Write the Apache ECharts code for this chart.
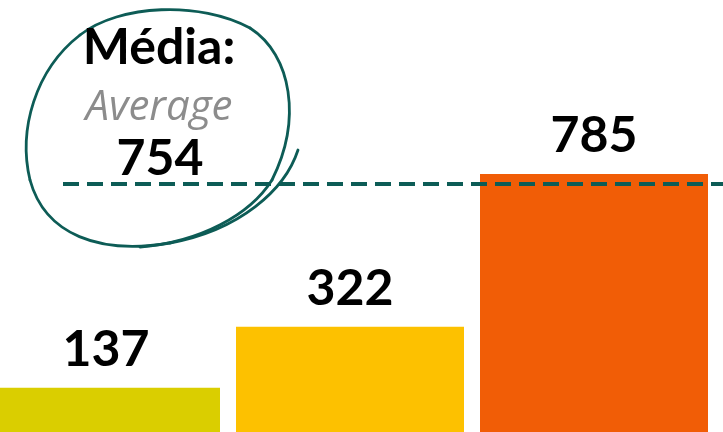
<!DOCTYPE html>
<html>
<head>
<meta charset="utf-8">
<script src="https://cdn.jsdelivr.net/npm/echarts@6/dist/echarts.min.js"></script>
<style>
  html, body { margin: 0; padding: 0; background: #ffffff; }
  #chart { width: 723px; height: 432px; }
</style>
</head>
<body>
<div id="chart"></div>
<script>
// Values per group
const categories = ['1', '2', '3'];
const values = [137, 322, 785];
const barColors = ['#DACE00', '#FDC100', '#F15D06'];

// Average reference line and its annotation
const average = 754;
const averageTitle = 'Média:';
const averageSubtitle = 'Average';

const lineColor = '#0D5C56';

// Hand-drawn loop around the annotation, as cubic segments [x1,y1,c1x,c1y,c2x,c2y,x2,y2]
const loopSegments = [
  [298, 150, 285, 190, 240, 230, 170, 243],
  [170, 243, 100, 255, 45, 235, 30, 180],
  [30, 180, 18, 130, 35, 70, 80, 35],
  [80, 35, 120, 4, 200, 1, 250, 28],
  [250, 28, 292, 55, 302, 120, 272, 180],
  [272, 180, 250, 215, 200, 242, 140, 247]
];

const chart = echarts.init(document.getElementById('chart'), null, { renderer: 'canvas' });

const loopGraphics = loopSegments.map(s => ({
  type: 'bezierCurve',
  z: 10,
  shape: { x1: s[0], y1: s[1], cpx1: s[2], cpy1: s[3], cpx2: s[4], cpy2: s[5], x2: s[6], y2: s[7] },
  style: { fill: null, stroke: lineColor, lineWidth: 2.8, lineCap: 'round' }
}));

chart.setOption({
  animation: false,
  backgroundColor: '#ffffff',
  grid: { left: -16, right: 7, top: 4, bottom: -1, outerBoundsMode: 'none', containLabel: false },
  xAxis: {
    type: 'category',
    data: categories,
    show: false
  },
  yAxis: {
    type: 'value',
    min: 0,
    max: 1300,
    show: false,
    splitLine: { show: false }
  },
  series: [{
    type: 'bar',
    barWidth: 228,
    data: values.map((v, i) => ({ value: v, itemStyle: { color: barColors[i] } })),
    label: {
      show: true,
      position: 'top',
      distance: 13,
      fontFamily: 'Lato',
      fontWeight: 'bold',
      fontSize: 50,
      color: '#000000'
    },
    markLine: {
      silent: true,
      symbol: ['none', 'none'],
      label: { show: false },
      lineStyle: { color: lineColor, type: [16, 8], width: 4 },
      z: 5,
      data: [[
        { xAxis: 0, yAxis: average, x: 63 },
        { xAxis: 2, yAxis: average, x: 723 }
      ]]
    }
  }],
  graphic: loopGraphics.concat([
    {
      type: 'text', z: 11, x: 159, y: 48,
      style: { text: averageTitle, font: 'bold 50px Lato', fill: '#000000', align: 'center', verticalAlign: 'middle' }
    },
    {
      type: 'text', z: 11, x: 159, y: 108,
      style: { text: averageSubtitle, font: 'italic 42px "Open Sans"', fill: '#8C8C8C', align: 'center', verticalAlign: 'middle' }
    },
    {
      type: 'text', z: 11, x: 160, y: 159,
      style: { text: String(average), font: 'bold 50px Lato', fill: '#000000', align: 'center', verticalAlign: 'middle' }
    }
  ])
});
</script>
</body>
</html>
